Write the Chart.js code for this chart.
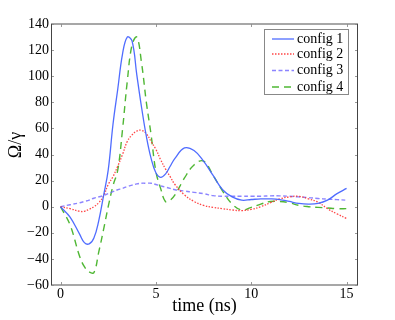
<!DOCTYPE html>
<html>
<head>
<meta charset="utf-8">
<script src="https://cdn.jsdelivr.net/npm/chart.js@4/dist/chart.umd.min.js"></script>
<style>
  html, body { margin: 0; padding: 0; background: #fff; }
</style>
</head>
<body>
<canvas id="myChart" width="395" height="320"></canvas>
<script>
// time grid (ns) shared by all series
const times = [0, 0.5, 1, 1.25, 1.5, 1.75, 2, 2.25, 2.5, 2.75, 3, 3.25, 3.5, 3.75, 4, 4.25, 4.5, 4.75, 5, 5.25,
  5.5, 5.75, 6, 6.5, 7, 7.5, 8, 8.5, 9, 9.5, 10, 10.5, 11, 11.5, 12, 12.5, 13, 13.5, 14, 14.5, 15];

// Omega / gamma
const config1 = [0, -8, -21, -27.5, -28.5, -24, -11, 8, 28, 63, 90, 117, 130, 127, 101, 76, 54, 37, 26, 22.5,
  25, 31, 37, 45, 43, 35, 24, 13, 7.5, 5, 5.5, 6, 6, 5.5, 4, 2.5, 2, 2.5, 5, 10, 14];
const config2 = [0, -1.5, -3.5, -3.5, -2, 0, 3, 8, 17, 23, 31, 40, 50, 55, 58, 58.5, 56, 50, 44, 36,
  29, 23, 17, 9, 4, 1, -0.5, -1.5, -2.5, -3, -2, 0, 3, 6, 7.5, 8, 6, 3.5, -1.5, -5.5, -9];
const config3 = [0, 1.5, 3, 4, 5, 6.5, 7.5, 8.5, 10, 11.5, 13, 14, 15.5, 16.5, 17.5, 18, 18, 18, 17, 16,
  15, 14, 13, 12, 11, 10, 8.5, 8, 8, 8, 8, 8, 8.3, 8.3, 8, 7.5, 7, 6.3, 5.8, 5.4, 5];
const config4 = [0, -14, -38, -46, -50, -50.5, -35, -18, 0, 16, 28, 59, 96, 124, 130, 110, 80, 55, 27, 14,
  4, 5, 9, 22, 32, 35, 24, 12, 2, -2.5, -0.5, 2, 4, 4, 3, 1, 0, -0.5, -1, -1.5, -1.5];

const seriesNames = ["config 1", "config 2", "config 3", "config 4"];
const xTicks = [0, 5, 10, 15];
const yTicks = [-60, -40, -20, 0, 20, 40, 60, 80, 100, 120, 140];

const serif = "'Liberation Serif', 'DejaVu Serif', serif";

function toPoints(values) {
  return values.map((v, i) => ({ x: times[i], y: v }));
}

// inward tick marks, axes frame, y label and boxed legend
const decorations = {
  id: "decorations",
  afterDatasetsDraw(chart) {
    const ctx = chart.ctx;
    const a = chart.chartArea;
    const xs = chart.scales.x;
    const ys = chart.scales.y;
    ctx.save();

    ctx.strokeStyle = "#999";
    ctx.lineWidth = 1;
    xTicks.forEach(v => {
      const px = Math.round(xs.getPixelForValue(v)) + 0.5;
      ctx.beginPath();
      ctx.moveTo(px, a.bottom); ctx.lineTo(px, a.bottom - 3);
      ctx.moveTo(px, a.top); ctx.lineTo(px, a.top + 3);
      ctx.stroke();
    });
    yTicks.forEach(v => {
      const py = Math.round(ys.getPixelForValue(v)) + 0.5;
      ctx.beginPath();
      ctx.moveTo(a.left, py); ctx.lineTo(a.left + 3, py);
      ctx.moveTo(a.right, py); ctx.lineTo(a.right - 3, py);
      ctx.stroke();
    });

    // frame
    ctx.lineWidth = 1.5;
    ctx.strokeStyle = "#8a8a8a";
    ctx.beginPath();
    ctx.moveTo(a.left, a.top); ctx.lineTo(a.right, a.top);
    ctx.moveTo(a.left, a.bottom); ctx.lineTo(a.right, a.bottom);
    ctx.stroke();
    ctx.strokeStyle = "#444";
    ctx.lineWidth = 1;
    ctx.beginPath();
    ctx.moveTo(a.left + 0.5, a.top); ctx.lineTo(a.left + 0.5, a.bottom);
    ctx.moveTo(a.right - 0.5, a.top); ctx.lineTo(a.right - 0.5, a.bottom);
    ctx.stroke();

    // y axis label
    ctx.save();
    ctx.translate(16, 145);
    ctx.rotate(-Math.PI / 2);
    ctx.fillStyle = "#000";
    ctx.font = "18px " + serif;
    ctx.textAlign = "center";
    ctx.textBaseline = "middle";
    ctx.fillText("\u03A9/\u03B3", 0, 0);
    ctx.restore();

    // legend
    const bx = 264.5, by = 29.5, bw = 84, bh = 65;
    ctx.fillStyle = "#fff";
    ctx.fillRect(bx, by, bw, bh);
    ctx.strokeStyle = "#888";
    ctx.lineWidth = 1;
    ctx.strokeRect(bx, by, bw, bh);
    ctx.font = "14px " + serif;
    ctx.textAlign = "left";
    ctx.textBaseline = "middle";
    const rows = [39, 54, 70.5, 87];
    chart.data.datasets.forEach((ds, i) => {
      const y = rows[i];
      ctx.strokeStyle = ds.borderColor;
      ctx.lineWidth = ds.borderWidth;
      ctx.setLineDash(ds.borderDash || []);
      ctx.beginPath();
      ctx.moveTo(272, y); ctx.lineTo(294, y);
      ctx.stroke();
      ctx.setLineDash([]);
      ctx.fillStyle = "#000";
      ctx.fillText(ds.label, 297, y);
    });

    ctx.restore();
  }
};

const ctx = document.getElementById("myChart").getContext("2d");
const myChart = new Chart(ctx, {
  type: "line",
  data: {
    datasets: [
      {
        label: seriesNames[0],
        data: toPoints(config1),
        borderColor: "rgba(70, 100, 255, 0.95)",
        borderWidth: 1.3,
        borderDash: []
      },
      {
        label: seriesNames[1],
        data: toPoints(config2),
        borderColor: "rgba(255, 50, 50, 0.9)",
        borderWidth: 1.3,
        borderDash: [1.5, 1.5]
      },
      {
        label: seriesNames[2],
        data: toPoints(config3),
        borderColor: "rgba(120, 110, 255, 0.85)",
        borderWidth: 1.4,
        borderDash: [4, 2.5]
      },
      {
        label: seriesNames[3],
        data: toPoints(config4),
        borderColor: "rgba(60, 175, 30, 0.9)",
        borderWidth: 1.4,
        borderDash: [7, 5]
      }
    ]
  },
  options: {
    responsive: false,
    animation: false,
    elements: {
      point: { radius: 0 },
      line: { fill: false, tension: 0.4 }
    },
    layout: {
      padding: { top: 24, right: 37, left: 0, bottom: 0 }
    },
    plugins: {
      legend: { display: false },
      tooltip: { enabled: false }
    },
    scales: {
      x: {
        type: "linear",
        min: -0.5,
        max: 15.6,
        grid: { display: false, drawTicks: false },
        border: { display: false },
        afterBuildTicks: scale => { scale.ticks = xTicks.map(v => ({ value: v })); },
        afterFit: scale => { scale.height = 35; },
        ticks: {
          color: "#000",
          padding: 1,
          font: { family: serif, size: 14 }
        },
        title: {
          display: true,
          text: "time (ns)",
          color: "#000",
          font: { family: serif, size: 18 },
          padding: { top: 0, bottom: 3 }
        }
      },
      y: {
        min: -60,
        max: 140,
        grid: { display: false, drawTicks: false },
        border: { display: false },
        afterBuildTicks: scale => { scale.ticks = yTicks.map(v => ({ value: v })); },
        afterFit: scale => { scale.width = 51; },
        ticks: {
          color: "#000",
          padding: 2,
          font: { family: serif, size: 14 },
          callback: v => String(v).replace("-", "\u2212")
        }
      }
    }
  },
  plugins: [decorations]
});
</script>
</body>
</html>
